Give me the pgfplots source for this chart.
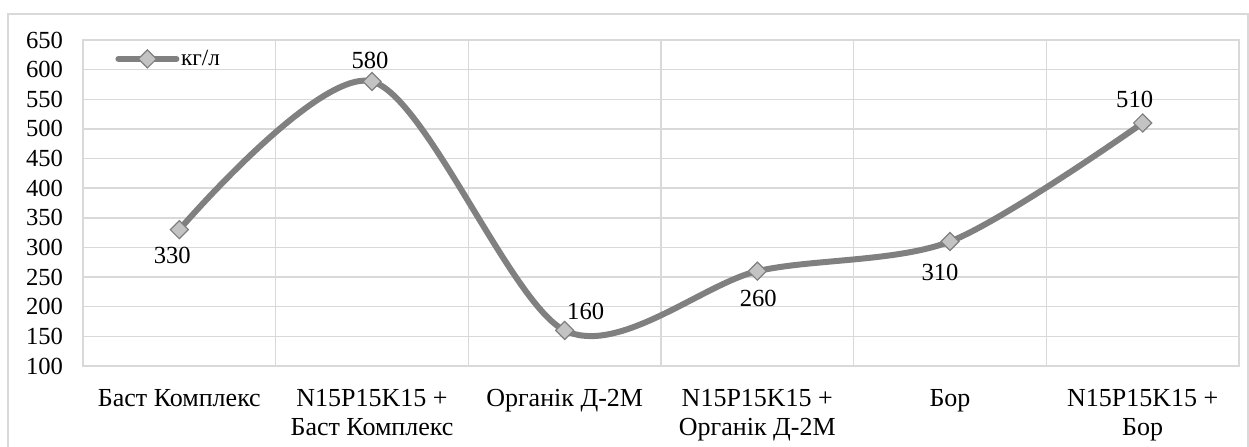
\documentclass[border=0pt]{standalone}
\usepackage{fontspec}
\setmainfont{Liberation Serif}
\usepackage{pgfplots}
\pgfplotsset{compat=1.18}
\definecolor{gridgray}{RGB}{217,217,217}
\definecolor{linegray}{RGB}{128,128,128}
\definecolor{markfill}{RGB}{195,195,195}
\begin{document}
\begin{tikzpicture}
\path[use as bounding box] (0,0) rectangle (624.5pt,223pt);
\draw[gridgray, line width=0.75pt] (4pt,-3pt) -- (4pt,216pt) -- (624pt,216pt) -- (624pt,-3pt);
\begin{axis}[
  at={(41.5pt,40pt)}, anchor=south west,
  width=578pt, height=163pt, scale only axis,
  xmin=-0.5, xmax=5.5, ymin=100, ymax=650,
  ytick={100,150,...,650},
  xtick={0,1,2,3,4,5},
  xticklabels={Баст Комплекс, {N15P15K15 +\\Баст Комплекс}, Органік Д-2М, {N15P15K15 +\\Органік Д-2М}, Бор, {N15P15K15 +\\Бор}},
  minor xtick={-0.5,0.5,1.5,2.5,3.5,4.5,5.5},
  ymajorgrids, xminorgrids,
  grid style={gridgray, line width=0.75pt},
  minor grid style={gridgray, line width=0.75pt},
  axis line style={gridgray, line width=0.75pt},
  major tick length=0pt, minor tick length=0pt,
  tick style={draw=none},
  yticklabel style={font=\fontsize{12.3}{14.5}\selectfont, xshift=-6.5pt},
  xticklabel style={font=\fontsize{13}{14.5}\selectfont, align=center, anchor=north, yshift=-8.2pt},
  /pgf/number format/assume math mode=true,
  legend style={at={(0.0277,0.942)}, anchor=west, draw=none, fill=none, inner sep=0pt,
    font=\fontsize{11.6}{13}\selectfont, nodes={inner sep=0.8pt}},
  legend cell align=left,
  legend image code/.code={\draw[#1, line cap=round, mark repeat=2, mark phase=2] plot coordinates {(0pt,0pt) (14.5pt,0pt) (29pt,0pt)};},
]
\addplot[linegray, line width=3pt, smooth,
  mark=square*, mark size=3.2pt,
  mark options={rotate=45, fill=markfill, draw=linegray, line width=0.6pt, solid},
  nodes near coords,
  visualization depends on={value \thisrow{dx}\as\dx},
  visualization depends on={value \thisrow{dy}\as\dy},
  every node near coord/.append style={anchor=center, text=black,
    font=\fontsize{12.3}{14}\selectfont, xshift=\dx pt, yshift=\dy pt},
] table[x=x, y=y] {
x y dx dy
0 330 -3.5 -13
1 580 -1 10.5
2 160 10.5 9.25
3 260 0.5 -13.5
4 310 -5 -15.5
5 510 -4 12
};
\addlegendentry{кг/л}
\end{axis}
\end{tikzpicture}
\end{document}
